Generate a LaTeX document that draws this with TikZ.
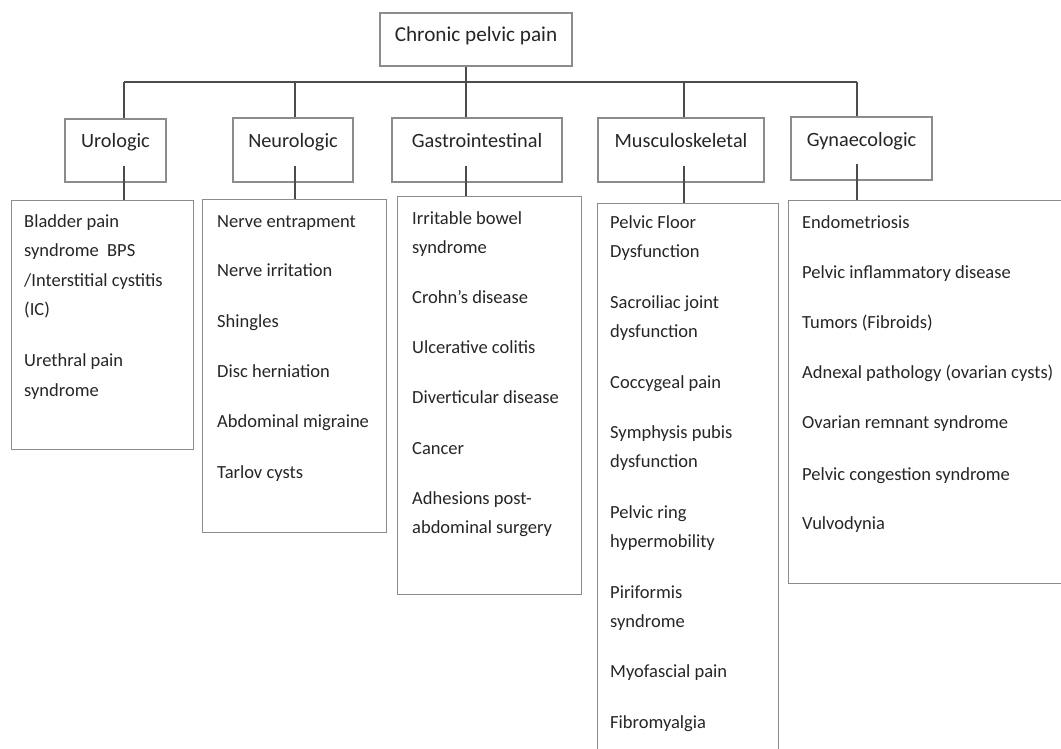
\documentclass[tikz,border=0pt]{standalone}
\usepackage{fontspec}
\setmainfont{Carlito}
\begin{document}
\begin{tikzpicture}[x=1pt,y=-1pt,
  boxline/.style={draw=black!45, line width=1.1pt},
  catbox/.style={boxline, rectangle, inner xsep=0pt, inner ysep=0pt, text=black!85,
     font=\fontsize{20.3}{24}\selectfont},
  listbox/.style={boxline, rectangle, inner sep=0pt, anchor=north west},
  item/.style={anchor=base west, inner sep=0pt, align=left, text=black!85,
     font=\fontsize{18.5}{29.5}\selectfont},
  conn/.style={draw=black!70, line width=1.2pt}]
\useasboundingbox (0,0) rectangle (1061,748);
\clip (0,0) rectangle (1061,748);
\fill[white] (0,0) rectangle (1061,748);

% root
\node[catbox, font=\fontsize{21.2}{25}\selectfont, minimum width=192pt, text height=28pt, text depth=25pt] (root) at (476,39.5) {Chronic pelvic pain};

% categories
\node[catbox, minimum width=101pt, text height=28pt, text depth=35pt] (uro) at (115.5,150.5) {Urologic};
\node[catbox, minimum width=120pt, text height=29pt, text depth=35pt] (neu) at (293,150) {Neurologic};
\node[catbox, minimum width=170pt, text height=29pt, text depth=35pt] (gas) at (477,150) {Gastrointestinal};
\node[catbox, minimum width=166pt, text height=29pt, text depth=35pt] (mus) at (681,150) {Musculoskeletal};
\node[catbox, minimum width=141pt, text height=29pt, text depth=34pt] (gyn) at (861.5,148.5) {Gynaecologic};

% list boxes
\node[listbox, minimum width=182pt, minimum height=249pt] (urolist) at (11,200) {};
\node[listbox, minimum width=184pt, minimum height=333pt] (neulist) at (202,199) {};
\node[listbox, minimum width=184pt, minimum height=398pt] (gaslist) at (397,196) {};
\node[listbox, minimum width=181pt, minimum height=560pt] (muslist) at (597,203) {};
\node[listbox, minimum width=300pt, minimum height=383pt] (gynlist) at (788,200) {};

% connectors
\coordinate (bus) at (466,82);
\coordinate (b1) at (124,82);
\coordinate (b2) at (295,82);
\coordinate (b3) at (466,82);
\coordinate (b4) at (684,82);
\coordinate (b5) at (857,82);
\draw[conn] (root.south -| bus) -- (bus);
\draw[conn] (b1) -- (b5);
\draw[conn] (b1) -- (b1 |- uro.north);
\draw[conn] (b2) -- (b2 |- neu.north);
\draw[conn] (b3) -- (b3 |- gas.north);
\draw[conn] (b4) -- (b4 |- mus.north);
\draw[conn] (b5) -- (b5 |- gyn.north);
\draw[conn] ([yshift=17pt]uro.south -| b1) -- (b1 |- urolist.north);
\draw[conn] ([yshift=17pt]neu.south -| b2) -- (b2 |- neulist.north);
\draw[conn] ([yshift=17pt]gas.south -| b3) -- (b3 |- gaslist.north);
\draw[conn] ([yshift=17pt]mus.south -| b4) -- (b4 |- muslist.north);
\draw[conn] ([yshift=17pt]gyn.south -| b5) -- (b5 |- gynlist.north);

% Urologic items (multi-line nodes: base = last line)
\node[item] (u1) at (24,315.5) {Bladder pain\\syndrome\ \ BPS\\/Interstitial cystitis\\(IC)};
\node[item] (u2) at (24,396) {Urethral pain\\syndrome};

% Neurologic items
\node[item] (n1) at (217,227) {Nerve entrapment};
\node[item] (n2) at (217,276) {Nerve irritation};
\node[item] (n3) at (217,327) {Shingles};
\node[item] (n4) at (217,377) {Disc herniation};
\node[item] (n5) at (217,427) {Abdominal migraine};
\node[item] (n6) at (217,478) {Tarlov cysts};

% Gastrointestinal items
\node[item] (g1) at (412,253.5) {Irritable bowel\\syndrome};
\node[item] (g2) at (412,303) {Crohn’s disease};
\node[item] (g3) at (412,353) {Ulcerative colitis};
\node[item] (g4) at (412,403) {Diverticular disease};
\node[item] (g5) at (412,454) {Cancer};
\node[item] (g6) at (412,533.5) {Adhesions post-\\abdominal surgery};

% Musculoskeletal items
\node[item] (m1) at (610,257.5) {Pelvic Floor\\Dysfunction};
\node[item] (m2) at (610,337.5) {Sacroiliac joint\\dysfunction};
\node[item] (m3) at (610,388) {Coccygeal pain};
\node[item] (m4) at (610,467.5) {Symphysis pubis\\dysfunction};
\node[item] (m5) at (610,547.5) {Pelvic ring\\hypermobility};
\node[item] (m6) at (610,627.5) {Piriformis\\syndrome};
\node[item] (m7) at (610,677) {Myofascial pain};
\node[item] (m8) at (610,728) {Fibromyalgia};

% Gynaecologic items
\node[item] (y1) at (802,228) {Endometriosis};
\node[item] (y2) at (802,278) {Pelvic inflammatory disease};
\node[item] (y3) at (802,328) {Tumors (Fibroids)};
\node[item] (y4) at (802,378) {Adnexal pathology (ovarian cysts)};
\node[item] (y5) at (802,428) {Ovarian remnant syndrome};
\node[item] (y6) at (802,480) {Pelvic congestion syndrome};
\node[item] (y7) at (802,529) {Vulvodynia};
\end{tikzpicture}
\end{document}
